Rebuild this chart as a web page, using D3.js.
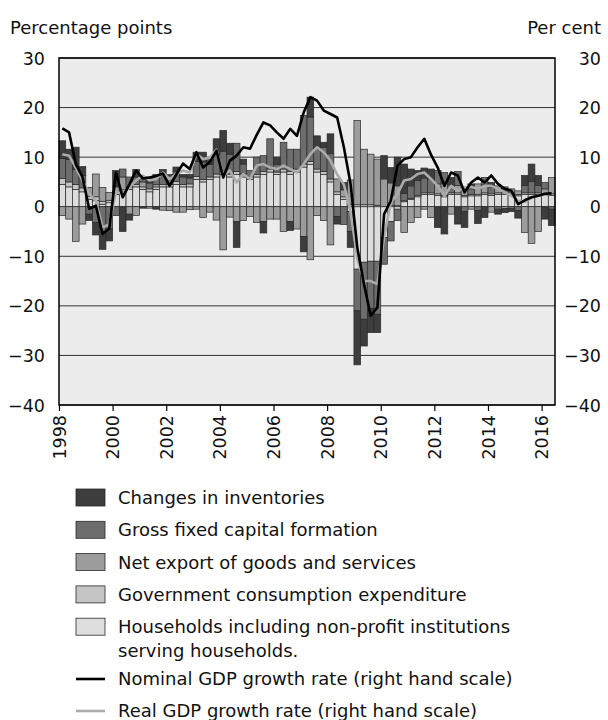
<!DOCTYPE html>
<html>
<head>
<meta charset="utf-8">
<script src="https://cdn.jsdelivr.net/npm/d3@7"></script>
<style>
  body { margin: 0; background: #fff; }
  svg text { font-family: "DejaVu Sans", sans-serif; fill: #111; }
</style>
</head>
<body>
<div id="chart"></div>
<script>
// quarterly contributions, 1998Q1 .. 2016Q2 (percentage points)
const households = [4.5,4.0,3.5,3.0, 1.5,1.2,0.5,0.8, 2.5,3.0,3.5,4.0, 3.5,3.0,3.5,4.0,
  4.0,4.5,4.0,4.0, 5.5,5.0,5.5,6.0, 6.5,6.0,6.5,6.0, 5.5,6.0,6.5,7.0, 6.5,7.0,6.5,7.0,
  8.0,8.5,7.0,6.5, 5.0,2.5,1.5,-1.0, -12.6,-11.2,-11.0,-11.0, -6.2,-3.0,-0.5,1.0, 1.5,2.0,2.5,2.5,
  2.3,2.0,2.5,2.5, 2.0,2.2,2.2,2.5, 2.3,2.5,2.5,2.5, 2.2,2.5,2.5,2.5, 2.3,2.3];
const government = [1.2,1.0,1.0,0.8, 0.6,0.8,0.6,0.5, 0.5,0.4,0.5,0.5, 0.5,0.6,0.5,0.5,
  0.5,0.6,0.5,0.6, 0.6,0.5,0.5,0.6, 0.7,0.6,0.6,0.6, 0.5,0.5,0.6,0.6, 0.5,0.6,0.6,0.6,
  0.6,0.6,0.6,0.6, 0.6,0.5,0.5,0.5, 0.4,0.4,0.4,0.3, 0.0,0.3,0.2,0.2, 0.2,0.3,0.3,0.3,
  0.3,0.3,0.3,0.3, 0.3,0.3,0.3,0.3, 0.3,0.3,0.3,0.3, 0.3,0.3,0.3,0.3, 0.3,0.3];
const netExports = [-1.8,-2.5,-7.0,-3.5, 1.8,4.6,2.8,1.6, 1.0,2.6,-1.5,-1.8, 1.0,-0.3,0.5,-0.7,
  -0.8,-1.1,-1.1,-0.6, -0.5,-2.2,-1.1,-2.7, -8.7,-2.1,-3.0,-2.8, -2.0,-3.2,-3.0,-2.5, -2.5,-5.0,-3.0,-4.5,
  -6.0,-10.7,-1.8,-2.8, -7.7,2.6,1.4,4.9, 17.0,11.2,10.2,9.3, 5.6,4.5,4.0,-5.2, -3.2,-2.2,-0.5,-2.2,
  2.0,2.5,-1.5,1.5, 1.6,-0.5,2.1,1.6, -1.1,1.4,-0.4,0.8, 0.7,-5.2,-7.4,-5.0, 1.0,3.3];
const gfcf = [4.0,4.5,3.0,2.5, -1.5,-3.2,-5.0,-4.5, -1.8,1.6,2.0,1.5, 1.0,1.2,2.0,2.0,
  1.5,2.0,1.5,1.2, 3.0,3.5,2.5,4.0, 4.0,4.0,5.7,2.0, 1.3,3.5,3.2,6.1, 1.5,5.4,4.5,4.0,
  9.8,9.0,4.2,4.9, 5.1,-2.0,-3.6,-4.0, -8.4,-11.5,-9.5,-10.7, -5.4,-3.9,-2.3,1.5, 2.5,3.0,3.0,2.8,
  2.7,2.1,1.6,2.8, -1.0,1.1,-0.8,1.5, 1.3,-0.5,1.2,-0.4, -0.8,1.5,2.3,1.5, 1.3,-0.5];
const inventories = [3.6,2.1,4.5,1.8, -1.3,-2.5,-3.6,-2.4, 3.3,-5.0,-1.2,1.5, -0.3,1.2,-0.5,1.0,
  0.5,0.9,0.5,0.7, 1.9,2.0,1.0,3.1, 4.2,2.2,-5.2,1.0, 0.0,0.0,-2.3,0.0, 1.5,0.0,-1.8,0.0,
  -3.1,4.0,2.5,1.0, 4.0,-1.5,1.5,-3.2, -10.9,-5.4,-4.9,-3.7, 4.7,3.1,5.8,5.9, 3.4,2.0,2.0,2.0,
  -4.2,-5.5,1.5,-3.5, -3.2,1.0,-2.6,-2.2, 1.0,-1.0,-0.8,-0.6, -1.5,2.0,3.5,2.0, -2.5,-3.3];
// growth rates (per cent, right hand scale)
const nominalGdp = [15.8,15.0,8.6,6.0, -0.4,0.2,-5.5,-4.4, 6.9,1.9,4.5,7.3, 5.7,5.9,6.2,6.7,
  4.2,6.5,8.7,7.6, 11.0,7.9,9.0,11.3, 5.9,9.3,10.3,12.0, 11.7,14.5,17.0,16.4, 15.0,13.7,15.7,14.3,
  19.0,22.1,21.4,19.4, 18.7,18.0,12.0,4.6, -8.2,-15.6,-22.0,-20.3, -1.5,1.2,8.3,9.6, 10.0,12.0,13.7,10.5,
  7.9,4.2,6.9,6.3, 2.9,4.9,5.9,4.9, 6.3,4.6,3.6,3.2, 0.5,1.3,1.9,2.2, 2.6,2.7];
const realGdp = [10.6,10.3,7.9,5.3, 2.6,1.2,-4.2,-3.5, 3.0,2.6,3.9,5.3, 6.3,5.3,5.6,6.9,
  5.6,6.6,7.3,6.9, 10.6,9.6,9.9,11.5, 6.3,7.3,4.9,6.6, 5.6,8.3,8.6,7.9, 7.6,8.3,7.6,6.9,
  8.6,10.6,12.0,11.0, 9.3,6.5,4.5,-1.0, -10.5,-15.0,-15.0,-15.6, -6.2,0.9,2.6,5.3, 5.6,6.6,6.9,5.6,
  4.2,2.2,4.2,3.2, 3.9,4.0,3.6,4.2, 4.2,3.6,2.9,2.2, 1.2,1.0,1.8,2.2, 2.4,2.6];

const seriesKeys = ["households", "government", "netExports", "gfcf", "inventories"];
const seriesLabels = {
  inventories: "Changes in inventories",
  gfcf: "Gross fixed capital formation",
  netExports: "Net export of goods and services",
  government: "Government consumption expenditure",
  households: ["Households including non-profit institutions", "serving households."]
};
const seriesColors = {
  inventories: "#3d3d3d", gfcf: "#6d6d6d", netExports: "#9c9c9c",
  government: "#c5c5c5", households: "#dddddd"
};
const yearTicks = [1998, 2000, 2002, 2004, 2006, 2008, 2010, 2012, 2014, 2016];
const yTicks = [30, 20, 10, 0, -10, -20, -30, -40];

const width = 608, height = 720;
const margin = {left: 59, right: 53, top: 58, bottom: 315};
const fontSize = 18, tickFontSize = 17.5;

const svg = d3.select("#chart").append("svg")
  .attr("width", width).attr("height", height);

const rows = nominalGdp.map((d, i) => ({
  t: 1998 + i / 4,
  households: households[i], government: government[i], netExports: netExports[i],
  gfcf: gfcf[i], inventories: inventories[i]
}));

const x = d3.scaleLinear()
  .domain([1998, 1998 + rows.length / 4])
  .range([margin.left, width - margin.right]);
const y = d3.scaleLinear()
  .domain([-40, 30])
  .range([height - margin.bottom, margin.top]);

// plot background
svg.append("rect")
  .attr("x", x.range()[0]).attr("y", y(30))
  .attr("width", x.range()[1] - x.range()[0]).attr("height", y(-40) - y(30))
  .attr("fill", "#ececec");

// grid lines
svg.append("g").selectAll("line").data(yTicks)
  .join("line")
  .attr("x1", x.range()[0]).attr("x2", x.range()[1])
  .attr("y1", d => y(d)).attr("y2", d => y(d))
  .attr("stroke", "#333").attr("stroke-width", 1);

// stacked bars
const stacked = d3.stack().keys(seriesKeys).offset(d3.stackOffsetDiverging)(rows);
svg.append("g").selectAll("g").data(stacked)
  .join("g")
  .attr("fill", s => seriesColors[s.key])
  .selectAll("rect").data(s => s)
  .join("rect")
  .attr("x", d => x(d.data.t))
  .attr("width", d => x(d.data.t + 0.25) - x(d.data.t))
  .attr("y", d => y(Math.max(d[0], d[1])))
  .attr("height", d => Math.abs(y(d[0]) - y(d[1])))
  .attr("stroke", "#2a2a2a").attr("stroke-width", 0.7);

// lines
const lineGen = d3.line()
  .x((d, i) => x(1998 + i / 4 + 0.125))
  .y(d => y(d));
svg.append("path").datum(realGdp)
  .attr("d", lineGen).attr("fill", "none")
  .attr("stroke", "#ababab").attr("stroke-width", 2.6).attr("stroke-linejoin", "round");
svg.append("path").datum(nominalGdp)
  .attr("d", lineGen).attr("fill", "none")
  .attr("stroke", "#000").attr("stroke-width", 2.6).attr("stroke-linejoin", "round");

// frame
svg.append("rect")
  .attr("x", x.range()[0]).attr("y", y(30))
  .attr("width", x.range()[1] - x.range()[0]).attr("height", y(-40) - y(30))
  .attr("fill", "none").attr("stroke", "#000").attr("stroke-width", 1.5);

// axes
const fmt = d => d < 0 ? "\u2212" + Math.abs(d) : String(d);
const leftAxis = svg.append("g")
  .attr("transform", `translate(${x.range()[0]},0)`)
  .call(d3.axisLeft(y).tickValues(yTicks).tickFormat(fmt).tickSize(0).tickPadding(14));
const rightAxis = svg.append("g")
  .attr("transform", `translate(${width - 7},0)`)
  .call(d3.axisLeft(y).tickValues(yTicks).tickFormat(fmt).tickSize(0).tickPadding(0));
const bottomAxis = svg.append("g")
  .attr("transform", `translate(0,${y(-40)})`)
  .call(d3.axisBottom(x).tickValues(yearTicks).tickFormat(d3.format("d")).tickSize(6).tickPadding(4));
[leftAxis, rightAxis, bottomAxis].forEach(a => {
  a.select(".domain").remove();
  a.selectAll("text").attr("font-size", tickFontSize).attr("fill", "#111")
    .attr("font-family", "'DejaVu Sans', sans-serif");
});
leftAxis.selectAll("text").attr("dy", "0.35em");
rightAxis.selectAll("text").attr("dy", "0.35em");
bottomAxis.selectAll("line").attr("stroke", "#000").attr("stroke-width", 1.2);
bottomAxis.selectAll("text")
  .attr("transform", "rotate(-90)")
  .attr("text-anchor", "end")
  .attr("x", -10).attr("y", 0).attr("dy", "0.35em");

// axis titles
svg.append("text").attr("x", 10).attr("y", 34).attr("font-size", fontSize).text("Percentage points");
svg.append("text").attr("x", width - 7).attr("y", 34).attr("font-size", fontSize)
  .attr("text-anchor", "end").text("Per cent");

// legend
const legendKeys = ["inventories", "gfcf", "netExports", "government", "households"];
const legend = svg.append("g");
legendKeys.forEach((k, i) => {
  const ly = 498 + i * 32.3;
  legend.append("rect")
    .attr("x", 76).attr("y", ly - 9).attr("width", 29).attr("height", 17)
    .attr("fill", seriesColors[k]).attr("stroke", "#2a2a2a").attr("stroke-width", 0.8);
  const lines = [].concat(seriesLabels[k]);
  lines.forEach((txt, j) => {
    legend.append("text").attr("x", 118).attr("y", ly + 6 + j * 24)
      .attr("font-size", fontSize).text(txt);
  });
});
const lineLegend = [
  {label: "Nominal GDP growth rate (right hand scale)", color: "#000"},
  {label: "Real GDP growth rate (right hand scale)", color: "#ababab"}
];
lineLegend.forEach((l, i) => {
  const ly = 679 + i * 32;
  legend.append("line").attr("x1", 76).attr("x2", 105).attr("y1", ly).attr("y2", ly)
    .attr("stroke", l.color).attr("stroke-width", 2.6);
  legend.append("text").attr("x", 118).attr("y", ly + 6).attr("font-size", fontSize).text(l.label);
});
</script>
</body>
</html>
